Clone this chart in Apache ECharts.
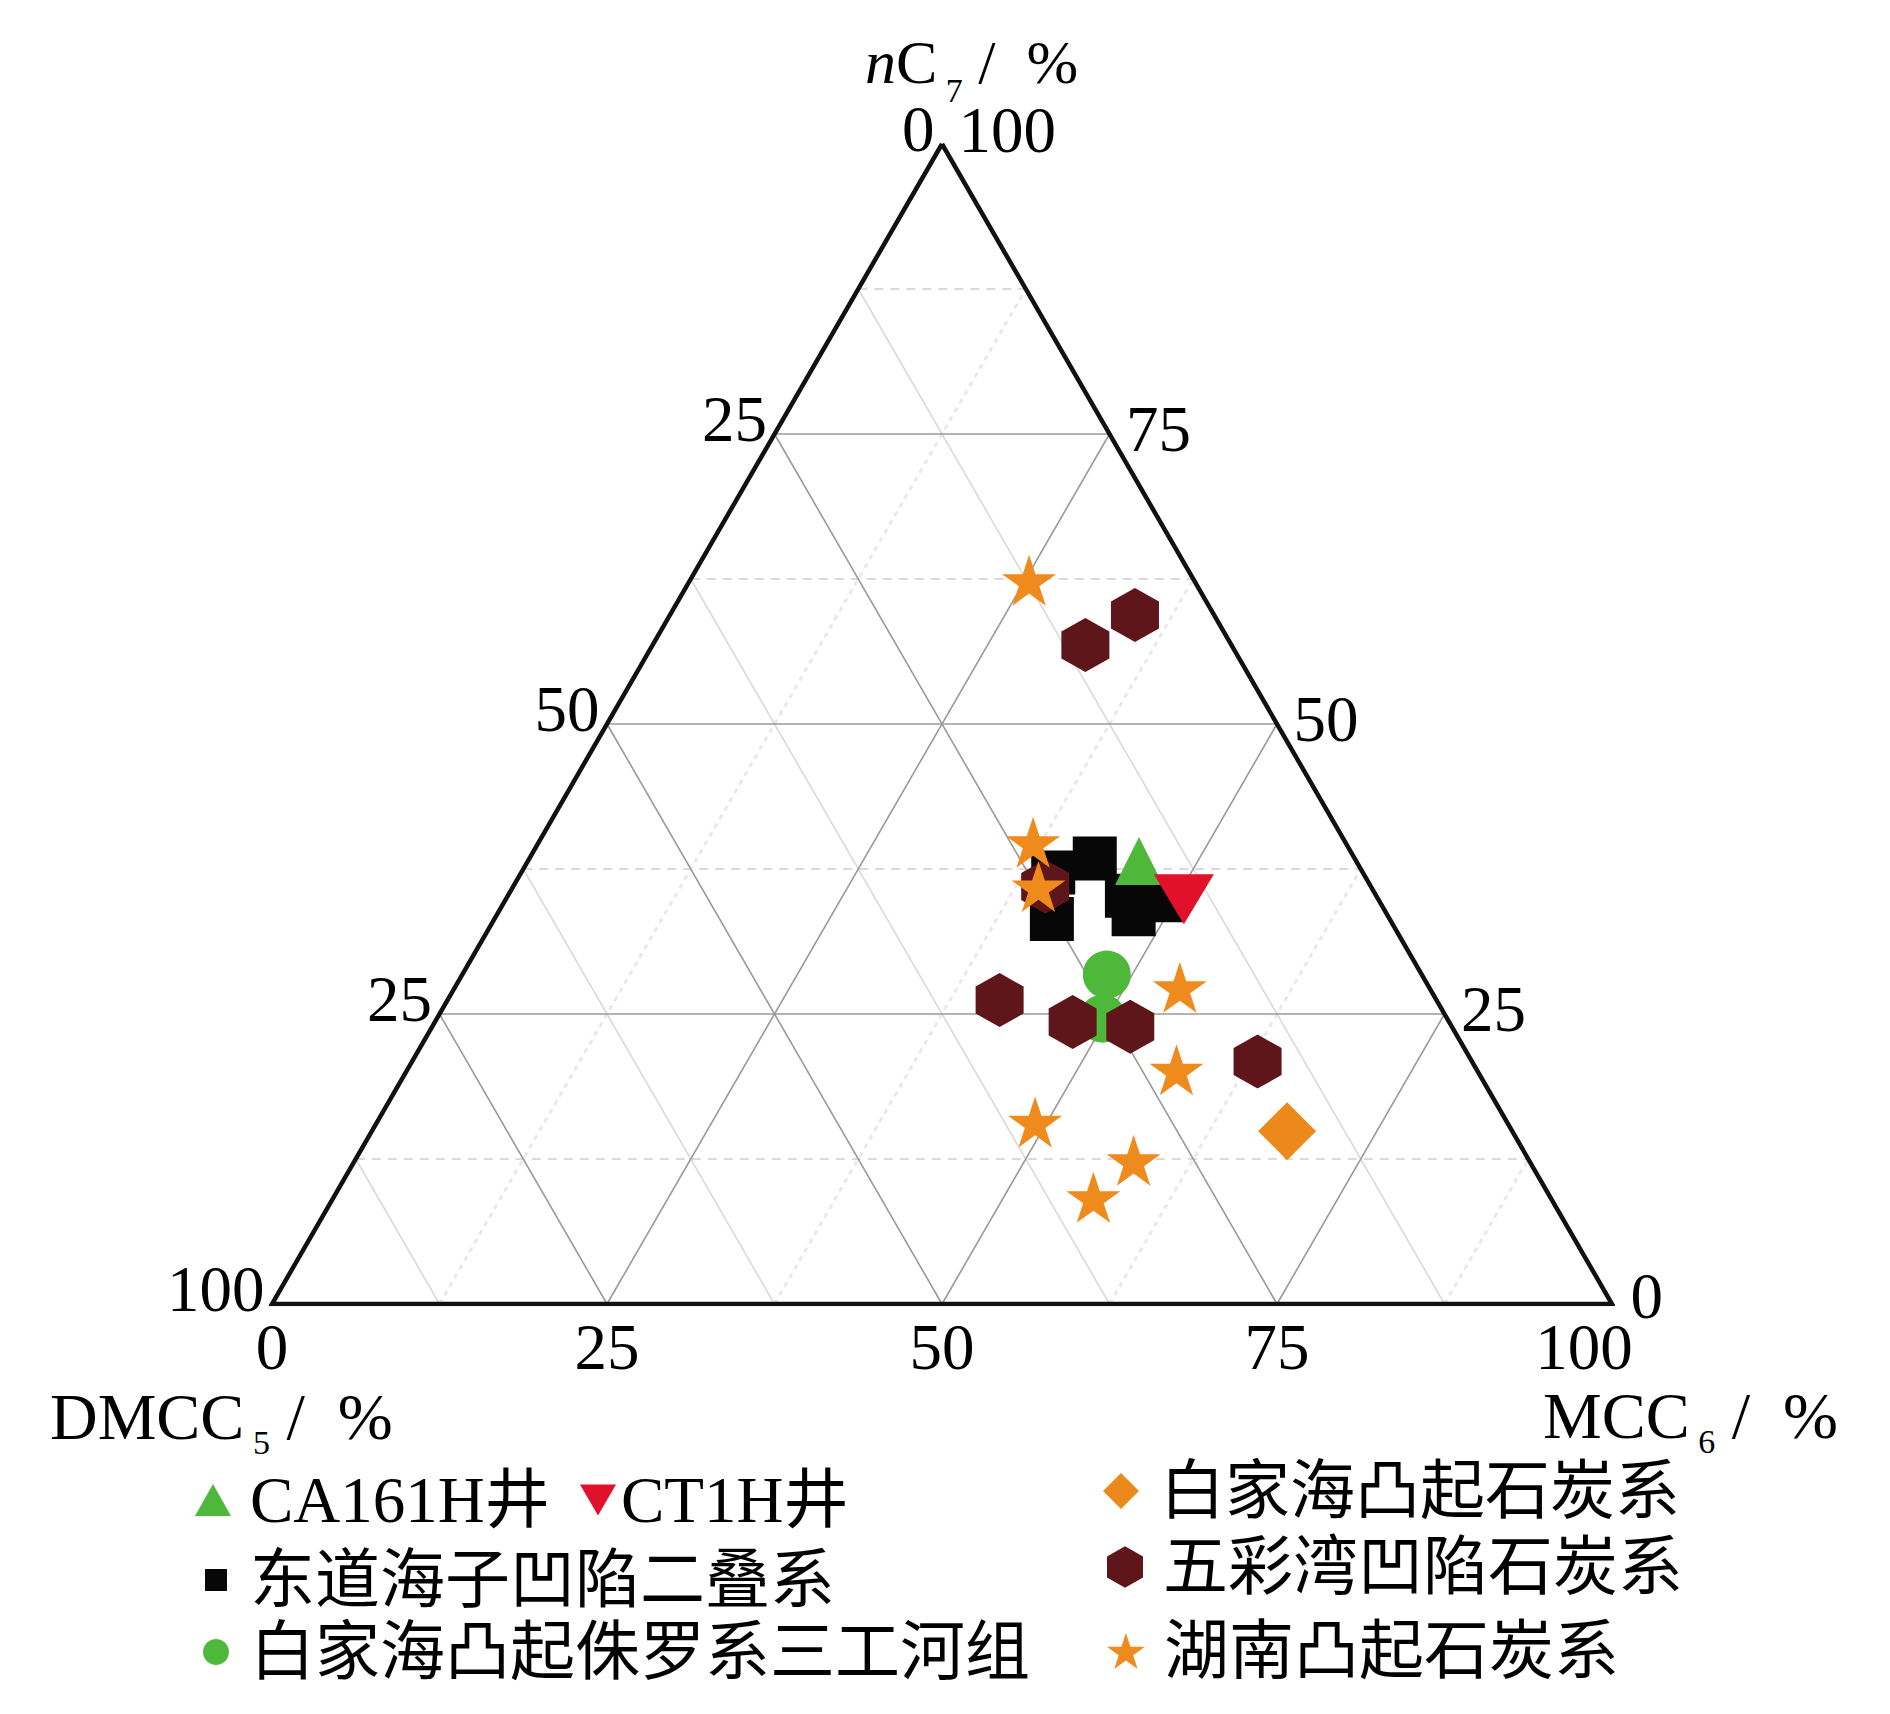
<!DOCTYPE html>
<html><head><meta charset="utf-8">
<script src="https://cdn.jsdelivr.net/npm/echarts@6/dist/echarts.min.js"></script>
<style>html,body{margin:0;padding:0;background:#fff}#c{width:1890px;height:1714px}</style>
</head><body><div id="c"></div>
<script>
// Ternary samples, each as [DMCC5, MCC6, nC7] in %
const ca161h = [[16.2, 45.6, 38.2]];
const ct1h = [[14.5, 50.6, 34.9]];
const dongdaohaiziPermian = [[19.4,42.2,38.4],[25.2,41.6,33.2],[23.1,39.7,37.2],[18.6,46.2,35.2],[18.9,47.5,33.6],[16.2,49.0,34.8]];
const baijiahaiJurassic = [[23.5,48.1,28.4],[25.7,49.7,24.6]];
const baijiahaiCarboniferous = [[16.8,68.3,14.9]];
const wucaiwanCarboniferous = [[5.9,34.7,59.4],[10.9,32.3,56.8],[24.3,39.7,36.0],[32.6,41.2,26.2],[28.1,47.6,24.3],[24.0,52.1,23.9],[16.0,63.1,20.9]];
const hunanCarboniferous = [[12.3,25.3,62.4],[23.3,36.9,39.8],[24.8,39.2,36.0],[18.6,54.1,27.3],[22.4,57.4,20.2],[35.2,49.1,15.7],[29.6,58.1,12.4],[34.1,56.7,9.2]];

const ticks = [0,25,50,75,100];
const leftTickLabels = ['0','25','50','25','100'];     // DMCC5 side (as printed)
const rightTickLabels = ['0','25','50','75','100'];    // nC7 side
const bottomTickLabels = ['0','25','50','75','100'];   // MCC6 side
const gridMajor = [25,50,75];
const gridMinor = [12.5,37.5,62.5,87.5];

const seriesNames = ['CA161H井','CT1H井','东道海子凹陷二叠系','白家海凸起侏罗系三工河组','白家海凸起石炭系','五彩湾凹陷石炭系','湖南凸起石炭系'];

const SQ = Math.sqrt(3)/2;
// [DMCC5, MCC6, nC7] -> cartesian (x: 0..100, y: 0..86.6)
function toXY(t){ const m=t[1], n=t[2]; return [m + n/2, n*SQ]; }

const STAR = 'path://M0,-1L0.2245,-0.309L0.951,-0.309L0.363,0.118L0.588,0.809L0,0.382L-0.588,0.809L-0.363,0.118L-0.951,-0.309L-0.2245,-0.309Z';
const HEX = 'path://M0,-1L0.866,-0.5L0.866,0.5L0,1L-0.866,0.5L-0.866,-0.5Z';
const DOWNTRI = 'path://M0,0L2,0L1,1.732Z';

function segs(vals, kind){
  return vals.map(v=>{
    let a,b;
    if(kind==='n'){ a=[100-v,0,v]; b=[0,100-v,v]; }
    else if(kind==='m'){ a=[100-v,v,0]; b=[0,v,100-v]; }
    else { a=[v,100-v,0]; b=[v,0,100-v]; }
    return {coords:[toXY(a),toXY(b)]};
  });
}
function linesSeries(data, style){
  return {type:'lines', coordinateSystem:'cartesian2d', silent:true, z:1, data:data, lineStyle:Object.assign({opacity:1},style)};
}

const SERIF = "'Liberation Serif','Times New Roman',serif";
const LEGFONT = "'Liberation Serif','Noto Sans CJK SC',serif";
const numFont = {fontFamily:SERIF, fontSize:65, lineHeight:46, color:'#000', fontWeight:'normal'};

function tickSeries(pointFn, labels, labelOpt, overrides){
  overrides = overrides || {};
  return {type:'scatter', silent:true, symbolSize:1, itemStyle:{color:'rgba(0,0,0,0)', opacity:1}, z:5,
    emphasis:{disabled:true},
    data: ticks.map((v,i)=>{
      const item = {value: toXY(pointFn(v)).concat([labels[i]])};
      if(overrides[i]) item.label = overrides[i];
      return item;
    }),
    label: Object.assign({show:true, formatter:p=>p.value[2]}, numFont, labelOpt)};
}

const outline = [toXY([0,0,100]), toXY([0,100,0]), toXY([100,0,0]), toXY([0,0,100])];

function markers(name, data, opt){
  const s = Object.assign({name:name, type:'scatter', data:data.map(toXY), emphasis:{disabled:true}, z:10}, opt);
  s.itemStyle = Object.assign({opacity:1}, opt.itemStyle);
  return s;
}

function rich(f){
  return {
    i:{fontFamily:SERIF, fontSize:f, fontStyle:'italic', fontWeight:'normal', color:'#000', lineHeight:64, verticalAlign:'top'},
    r:{fontFamily:SERIF, fontSize:f, fontWeight:'normal', color:'#000', lineHeight:64, verticalAlign:'top'},
    s:{fontFamily:SERIF, fontSize:34, fontWeight:'normal', color:'#000', lineHeight:20, verticalAlign:'top', padding:[42,0,0,0]}
  };
}

function leg(name, icon, left, top, w, h, pad){
  return {data:[{name:name, icon:icon}], left:left, top:top, itemWidth:w, itemHeight:h, padding:0, itemGap:0,
    selectedMode:false, orient:'horizontal',
    textStyle:{fontFamily:LEGFONT, fontSize:65, lineHeight:72, color:'#000', padding:[0,0,0,pad]}};
}

const option = {
  backgroundColor:'#fff',
  animation:false,
  grid:{left:272, right:278, top:144, bottom:410},
  xAxis:{type:'value', min:0, max:100, show:false},
  yAxis:{type:'value', min:0, max:100*SQ, show:false},
  title:[
    {text:'{i|n}{r|C}{s| 7}{r| /  %}', left:865, top:31, padding:0, textStyle:{fontWeight:'normal', rich:rich(62)}},
    {text:'{r|DMCC}{s| 5}{r| /  %}', left:50, top:1383, padding:0, textStyle:{fontWeight:'normal', rich:rich(66)}},
    {text:'{r|MCC}{s| 6}{r| /  %}', left:1543, top:1382, padding:0, textStyle:{fontWeight:'normal', rich:rich(66)}}
  ],
  legend:[
    leg(seriesNames[0], 'triangle', 195, 1464, 36, 32, 14),
    leg(seriesNames[1], DOWNTRI, 580, 1464, 36, 32, 0),
    leg(seriesNames[2], 'rect', 205, 1544, 22, 22, 18),
    leg(seriesNames[3], 'circle', 203, 1616, 26, 26, 16),
    leg(seriesNames[4], 'diamond', 1103, 1455, 36, 36, 16),
    leg(seriesNames[5], HEX, 1107, 1531, 36, 42, 15),
    leg(seriesNames[6], STAR, 1107, 1615, 38, 36, 14)
  ],
  series:[
    linesSeries(segs(gridMinor,'n'), {color:'#d2cdcd', width:1.6, type:[9,7]}),
    linesSeries(segs(gridMinor,'m'), {color:'#ece8e8', width:3, type:[5,5]}),
    linesSeries(segs(gridMinor,'d'), {color:'#dcd8d8', width:1.6, type:'solid'}),
    linesSeries(segs(gridMajor,'n').concat(segs(gridMajor,'m'), segs(gridMajor,'d')), {color:'#9c9898', width:1.6, type:'solid'}),
    {type:'line', silent:true, data:outline, symbol:'none', z:3, lineStyle:{color:'#111', width:4.5, join:'miter'}},
    tickSeries(v=>[v,0,100-v], leftTickLabels, {position:'left', distance:7, offset:[0,-15]}),
    tickSeries(v=>[0,100-v,v], rightTickLabels, {position:'right', distance:16, offset:[0,-5]}, {0:{offset:[2,-8]}, 4:{offset:[0,-14]}}),
    tickSeries(v=>[100-v,v,0], bottomTickLabels, {position:'bottom', distance:19}, {4:{offset:[-28,0]}}),
    markers(seriesNames[2], dongdaohaiziPermian, {symbol:'rect', symbolSize:44, itemStyle:{color:'#070707'}}),
    markers(seriesNames[3], baijiahaiJurassic, {symbol:'circle', symbolSize:48, itemStyle:{color:'#4db83a'}}),
    markers(seriesNames[5], wucaiwanCarboniferous, {symbol:HEX, symbolSize:[48,54], itemStyle:{color:'#5e161b'}}),
    markers(seriesNames[6], hunanCarboniferous, {symbol:STAR, symbolSize:[54,51], itemStyle:{color:'#ef8b1d'}}),
    markers(seriesNames[4], baijiahaiCarboniferous, {symbol:'diamond', symbolSize:[58,58], itemStyle:{color:'#ec891b'}}),
    markers(seriesNames[0], ca161h, {symbol:'triangle', symbolSize:[48,48], itemStyle:{color:'#4db83a'}}),
    markers(seriesNames[1], ct1h, {symbol:'triangle', symbolRotate:180, symbolSize:[60,50], itemStyle:{color:'#e1102b'}})
  ]
};
const chart = echarts.init(document.getElementById('c'), null, {renderer:'svg'});
chart.setOption(option);
</script>
</body></html>
